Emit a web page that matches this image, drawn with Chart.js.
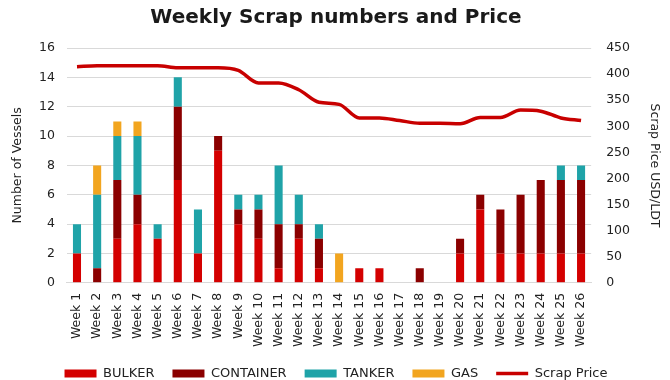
<!DOCTYPE html>
<html>
<head>
<meta charset="utf-8">
<script src="https://cdn.jsdelivr.net/npm/chart.js@4"></script>
<style>
  html, body { margin: 0; padding: 0; background: #ffffff; }
  #wrap { width: 670px; height: 380px; }
</style>
</head>
<body>
<div id="wrap"><canvas id="c" width="670" height="380"></canvas></div>
<script>
const weeks = ["Week 1","Week 2","Week 3","Week 4","Week 5","Week 6","Week 7","Week 8","Week 9","Week 10","Week 11","Week 12","Week 13","Week 14","Week 15","Week 16","Week 17","Week 18","Week 19","Week 20","Week 21","Week 22","Week 23","Week 24","Week 25","Week 26"];
const bulker    = [2,0,3,4,3,7,2,9,4,3,1,3,1,0,1,1,0,0,0,2,5,2,2,2,2,2];
const container = [0,1,4,2,0,5,0,1,1,2,3,1,2,0,0,0,0,1,0,1,1,3,4,5,5,5];
const tanker    = [2,5,3,4,1,2,3,0,1,1,4,2,1,0,0,0,0,0,0,0,0,0,0,0,1,1];
const gas       = [0,2,1,1,0,0,0,0,0,0,0,0,0,2,0,0,0,0,0,0,0,0,0,0,0,0];
const scrapPrice = [414,416,416,416,416,412,412,412,407,383,383,370,346,342,316,316,311,306,306,305,317,317,331,329,316,311];
const leftTicks = { min: 0, max: 16, step: 2 };
const rightTicks = { min: 0, max: 450, step: 50 };

const FONT = "'DejaVu Sans', Verdana, sans-serif";
const C_BULKER = '#D40000';
const C_CONT = '#8B0000';
const C_TANK = '#1FA3A8';
const C_GAS = '#F2A51F';
const C_LINE = '#C80000';

const barCommon = { stack: 's', barPercentage: 0.4, categoryPercentage: 1.0, borderWidth: 0, yAxisID: 'y' };

new Chart(document.getElementById('c'), {
  type: 'bar',
  data: {
    labels: weeks,
    datasets: [
      Object.assign({ label: 'BULKER', data: bulker, backgroundColor: C_BULKER }, barCommon),
      Object.assign({ label: 'CONTAINER', data: container, backgroundColor: C_CONT }, barCommon),
      Object.assign({ label: 'TANKER', data: tanker, backgroundColor: C_TANK }, barCommon),
      Object.assign({ label: 'GAS', data: gas, backgroundColor: C_GAS }, barCommon),
      { type: 'line', label: 'Scrap Price', data: scrapPrice, borderColor: C_LINE, backgroundColor: C_LINE,
        borderWidth: 3.5, pointRadius: 0, cubicInterpolationMode: 'monotone', yAxisID: 'y1', fill: false }
    ]
  },
  options: {
    responsive: false,
    animation: false,
    layout: { padding: { left: 8, right: 6, top: 2, bottom: -10 } },
    plugins: {
      title: { display: true, text: 'Weekly Scrap numbers and Price', color: '#1a1a1a',
        font: { family: FONT, size: 20, weight: 'bold' }, padding: { top: 4, bottom: 18 } },
      legend: {
        position: 'bottom',
        labels: {
          color: '#222', font: { family: FONT, size: 13 }, boxWidth: 30, boxHeight: 8,
          usePointStyle: true, pointStyleWidth: 32, padding: 18,
          generateLabels: function(chart) {
            const items = Chart.defaults.plugins.legend.labels.generateLabels(chart);
            items.forEach(function(it, i) {
              if (i === 4) { it.pointStyle = 'line'; it.lineWidth = 3.5; it.strokeStyle = C_LINE; }
              else { it.pointStyle = 'rect'; it.lineWidth = 0; }
            });
            return items;
          }
        }
      },
      tooltip: { enabled: false }
    },
    scales: {
      x: {
        stacked: true,
        grid: { display: false },
        border: { display: true, color: '#d9d9d9' },
        ticks: { color: '#222', font: { family: FONT, size: 12.5 }, maxRotation: 90, minRotation: 90, autoSkip: false, padding: 2 }
      },
      y: {
        stacked: true, position: 'left',
        min: leftTicks.min, max: leftTicks.max,
        ticks: { stepSize: leftTicks.step, color: '#222', font: { family: FONT, size: 12.5 }, padding: 12 },
        grid: { color: '#d9d9d9', drawTicks: false },
        border: { display: false },
        title: { display: true, text: 'Number of Vessels', color: '#222', font: { family: FONT, size: 12.5 }, padding: 2 }
      },
      y1: {
        position: 'right',
        min: rightTicks.min, max: rightTicks.max,
        ticks: { stepSize: rightTicks.step, color: '#222', font: { family: FONT, size: 12.5 }, padding: 15 },
        grid: { display: false, drawTicks: false },
        border: { display: false },
        title: { display: true, text: 'Scrap Pice USD/LDT', color: '#222', font: { family: FONT, size: 12.5 }, padding: 2 }
      }
    }
  }
});
</script>
</body>
</html>
